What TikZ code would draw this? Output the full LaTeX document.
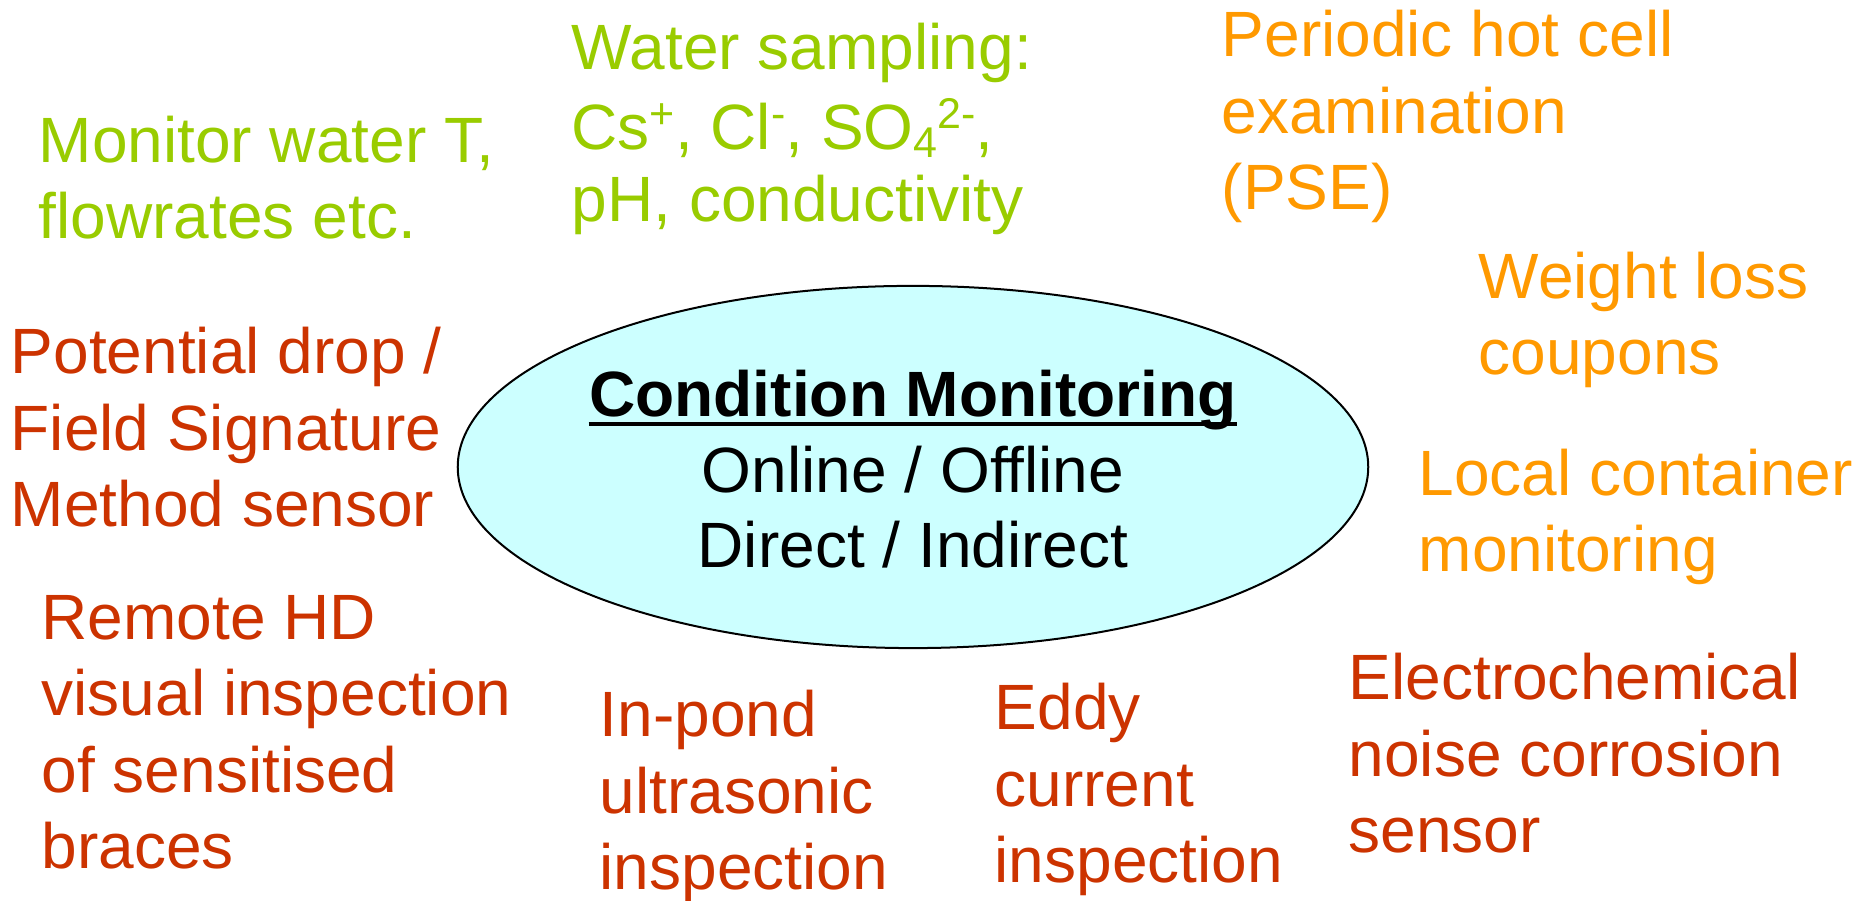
\documentclass[tikz,border=0pt]{standalone}
\usepackage{fontspec}
\setmainfont{Liberation Sans}
\usetikzlibrary{shapes.geometric}

\definecolor{leafgreen}{HTML}{99CC00}
\definecolor{amber}{HTML}{FF9900}
\definecolor{rust}{HTML}{CC3300}
\definecolor{paleaqua}{HTML}{CCFFFF}

% raised and lowered small indices for the ion formulas
\newcommand{\upidx}[1]{\raisebox{0.33em}{\fontsize{0.43cm}{0.5cm}\selectfont #1}}
\newcommand{\dnidx}[1]{\raisebox{-0.12em}{\fontsize{0.43cm}{0.5cm}\selectfont #1}}

% every text block is placed by the baseline of its last line
\tikzset{
  label text/.style={anchor=base west, inner sep=0pt, align=left,
    font=\fontsize{0.64cm}{0.765cm}\selectfont},
  core text/.style={anchor=base, inner sep=0pt, align=center,
    font=\fontsize{0.64cm}{0.757cm}\selectfont},
  hub/.style={ellipse, draw=black, line width=0.02cm, fill=paleaqua,
    minimum width=9.1cm, minimum height=3.62cm, inner sep=0pt}
}

\begin{document}
\begin{tikzpicture}[x=0.01cm, y=-0.01cm]
\useasboundingbox (0,0) rectangle (1856,901);

% central ellipse with its three lines
\node[hub] (hub) at (913,467) {};
\node[core text, font=\fontsize{0.64cm}{0.757cm}\selectfont\bfseries] (title) at (913,417) {Condition Monitoring};
\draw[line width=0.04cm] ([yshift=-0.075cm]title.base west) -- ([yshift=-0.075cm]title.base east);
\node[core text] (modes) at (913,568) {Online / Offline\\Direct / Indirect};

% process water monitoring
\node[label text, text=leafgreen] (watert) at (38,239) {Monitor water T,\\flowrates etc.};
\node[label text, text=leafgreen] (sampling) at (571,222)
  {Water sampling:\\[0.035cm]Cs\upidx{+}, Cl\upidx{-}, SO\dnidx{4}\upidx{2-},\\[-0.045cm]pH, conductivity};

% periodic examinations
\node[label text, text=amber] (hotcell) at (1221,210) {Periodic hot cell\\examination\\(PSE)};
\node[label text, text=amber] (coupons) at (1478,375) {Weight loss\\coupons};
\node[label text, text=amber] (container) at (1418,572) {Local container\\monitoring};

% inspection and sensors
\node[label text, text=rust] (fsm) at (10,527) {Potential drop /\\Field Signature\\Method sensor};
\node[label text, text=rust] (visual) at (41,869) {Remote HD\\visual inspection\\of sensitised\\braces};
\node[label text, text=rust] (ultra) at (599,890) {In-pond\\ultrasonic\\inspection};
\node[label text, text=rust] (eddy) at (994,883) {Eddy\\current\\inspection};
\node[label text, text=rust] (noise) at (1348,853) {Electrochemical\\noise corrosion\\sensor};
\end{tikzpicture}
\end{document}
